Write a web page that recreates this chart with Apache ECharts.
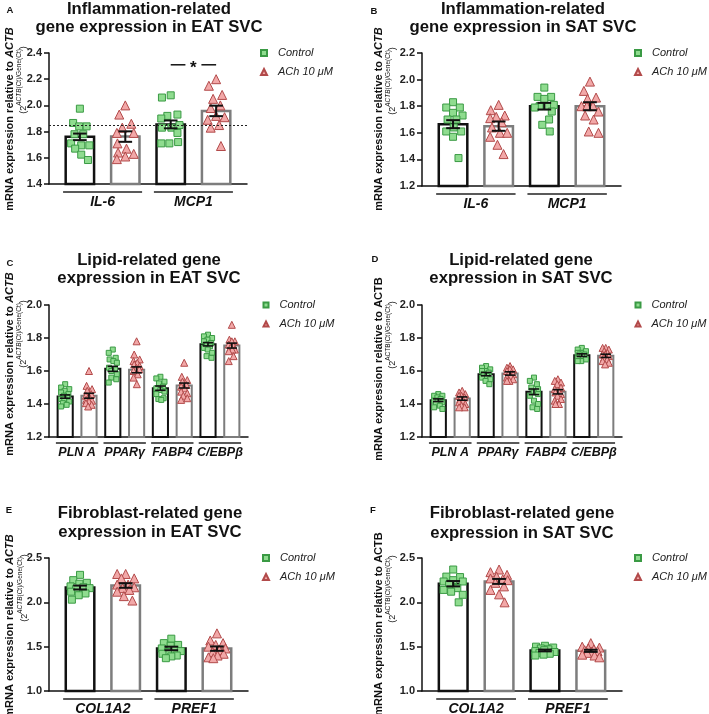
<!DOCTYPE html>
<html><head><meta charset="utf-8">
<script src="https://cdn.jsdelivr.net/npm/echarts@6/dist/echarts.min.js"></script>
<style>html,body{margin:0;padding:0;background:#fff}#c{width:709px;height:714px}</style>
</head><body><div id="c"></div>
<script>
const FONT = '"Liberation Sans", Arial, Helvetica, sans-serif';

// ---------- Panel A ----------
const aGenes = ['IL-6', 'MCP1'];
const aTicks = [1.4, 1.6, 1.8, 2.0, 2.2, 2.4];
const aCtrlMean = [1.76, 1.855];
const aCtrlSem = [0.025, 0.03];
const aAchMean = [1.762, 1.958];
const aAchSem = [0.04, 0.04];
const aCtrlPts = [[1.975,1.866,1.84,1.84,1.78,1.78,1.71,1.695,1.695,1.67,1.624,1.583],
                  [2.077,2.06,1.93,1.92,1.9,1.85,1.83,1.83,1.79,1.72,1.71,1.71]];
const aAchPts = [[2.0,1.93,1.86,1.83,1.79,1.79,1.71,1.67,1.64,1.63,1.61,1.59],
                 [2.2,2.15,2.08,2.05,2.0,1.98,1.92,1.91,1.89,1.85,1.83,1.69]];
const aRefLine = 1.855;
const aSigY = 2.31;

// ---------- Panel B ----------
const bGenes = ['IL-6', 'MCP1'];
const bTicks = [1.2, 1.4, 1.6, 1.8, 2.0, 2.2];
const bCtrlMean = [1.665, 1.80];
const bCtrlSem = [0.03, 0.025];
const bAchMean = [1.65, 1.80];
const bAchSem = [0.035, 0.03];
const bCtrlPts = [[1.83,1.79,1.79,1.75,1.73,1.70,1.70,1.64,1.61,1.61,1.57,1.41],
                  [1.94,1.87,1.87,1.855,1.81,1.80,1.80,1.79,1.76,1.70,1.66,1.61]];
const bAchPts = [[1.81,1.77,1.73,1.72,1.71,1.68,1.64,1.60,1.60,1.57,1.51,1.44],
                 [1.985,1.915,1.865,1.855,1.80,1.80,1.80,1.76,1.73,1.70,1.61,1.60]];

// ---------- Panel C ----------
const cGenes = ['PLN A', 'PPARγ', 'FABP4', 'C/EBPβ'];
const cTicks = [1.2, 1.4, 1.6, 1.8, 2.0];
const cCtrlMean = [1.445, 1.613, 1.496, 1.762];
const cCtrlSem = [0.01, 0.015, 0.013, 0.01];
const cAchMean = [1.45, 1.607, 1.512, 1.754];
const cAchSem = [0.015, 0.018, 0.015, 0.015];
const cCtrlPts = [[1.52,1.50,1.49,1.48,1.47,1.46,1.45,1.44,1.43,1.43,1.415,1.405,1.395,1.385],
                  [1.73,1.71,1.68,1.67,1.66,1.65,1.62,1.61,1.60,1.58,1.56,1.55,1.53],
                  [1.565,1.555,1.535,1.525,1.505,1.495,1.485,1.475,1.46,1.435,1.43,1.425],
                  [1.82,1.81,1.80,1.79,1.78,1.77,1.76,1.75,1.74,1.73,1.71,1.69,1.68]];
const cAchPts = [[1.60,1.51,1.49,1.48,1.46,1.45,1.44,1.425,1.42,1.415,1.405,1.395,1.385],
                 [1.78,1.70,1.67,1.66,1.65,1.64,1.63,1.62,1.61,1.60,1.58,1.56,1.52],
                 [1.65,1.565,1.545,1.535,1.515,1.505,1.495,1.475,1.465,1.45,1.435,1.425],
                 [1.88,1.79,1.78,1.78,1.76,1.75,1.74,1.73,1.73,1.72,1.69,1.66]];

// ---------- Panel D ----------
const dGenes = ['PLN A', 'PPARγ', 'FABP4', 'C/EBPβ'];
const dTicks = [1.2, 1.4, 1.6, 1.8, 2.0];
const dCtrlMean = [1.423, 1.581, 1.474, 1.696];
const dCtrlSem = [0.008, 0.01, 0.017, 0.008];
const dAchMean = [1.433, 1.585, 1.474, 1.692];
const dAchSem = [0.01, 0.01, 0.013, 0.01];
const dCtrlPts = [[1.46,1.45,1.45,1.44,1.43,1.42,1.42,1.41,1.40,1.39,1.38,1.37],
                  [1.63,1.62,1.61,1.60,1.60,1.59,1.58,1.57,1.56,1.55,1.54,1.52],
                  [1.56,1.54,1.52,1.50,1.49,1.47,1.46,1.45,1.42,1.40,1.38,1.37],
                  [1.74,1.73,1.72,1.71,1.71,1.70,1.70,1.69,1.68,1.67,1.66,1.66]];
const dAchPts = [[1.48,1.47,1.46,1.45,1.45,1.44,1.43,1.42,1.41,1.40,1.39,1.38,1.38],
                 [1.63,1.62,1.61,1.61,1.60,1.59,1.58,1.58,1.57,1.56,1.55,1.54,1.54],
                 [1.55,1.54,1.53,1.52,1.50,1.49,1.48,1.47,1.46,1.45,1.43,1.42,1.40,1.40],
                 [1.74,1.74,1.73,1.72,1.71,1.70,1.70,1.69,1.68,1.67,1.66,1.65,1.64]];

// ---------- Panel E ----------
const eGenes = ['COL1A2', 'PREF1'];
const eTicks = [1.0, 1.5, 2.0, 2.5];
const eCtrlMean = [2.167, 1.48];
const eCtrlSem = [0.022, 0.02];
const eAchMean = [2.19, 1.478];
const eAchSem = [0.026, 0.025];
const eCtrlPts = [[2.31,2.25,2.22,2.21,2.18,2.17,2.16,2.15,2.12,2.10,2.08,2.03],
                  [1.59,1.54,1.52,1.51,1.48,1.46,1.45,1.44,1.42,1.40,1.39,1.37]];
const eAchPts = [[2.32,2.32,2.27,2.27,2.20,2.20,2.17,2.16,2.14,2.12,2.07,2.02],
                 [1.65,1.57,1.54,1.52,1.50,1.48,1.46,1.44,1.42,1.40,1.38,1.37]];

// ---------- Panel F ----------
const fGenes = ['COL1A2', 'PREF1'];
const fTicks = [1.0, 1.5, 2.0, 2.5];
const fCtrlMean = [2.21, 1.457];
const fCtrlSem = [0.03, 0.01];
const fAchMean = [2.236, 1.453];
const fAchSem = [0.028, 0.012];
const fCtrlPts = [[2.37,2.29,2.285,2.25,2.235,2.235,2.20,2.16,2.14,2.12,2.085,2.0],
                  [1.51,1.50,1.49,1.48,1.47,1.46,1.45,1.44,1.43,1.42,1.41,1.40]];
const fAchPts = [[2.37,2.34,2.31,2.29,2.27,2.26,2.25,2.22,2.18,2.14,2.09,2.0],
                 [1.54,1.50,1.49,1.48,1.47,1.46,1.45,1.44,1.43,1.41,1.40,1.38]];

// ---------- layout / style per panel ----------
const panels = [
  {letter:'A', genes:aGenes, ticks:aTicks, cm:aCtrlMean, cs:aCtrlSem, am:aAchMean, as:aAchSem, cp:aCtrlPts, ap:aAchPts,
   grid:{left:49, top:53, width:198, height:131}, title:['Inflammation-related','gene expression in EAT SVC'], tx:149, ty:[9,27],
   lp:[10,10], leg:[263,53], yl1:[10,119], yl2:[22,80], italic:true, big:true},
  {letter:'B', genes:bGenes, ticks:bTicks, cm:bCtrlMean, cs:bCtrlSem, am:bAchMean, as:bAchSem, cp:bCtrlPts, ap:bAchPts,
   grid:{left:422, top:53, width:199, height:133}, title:['Inflammation-related','gene expression in SAT SVC'], tx:523, ty:[9,27],
   lp:[374,11], leg:[637,53], yl1:[379,119], yl2:[391,81], italic:true, big:true},
  {letter:'C', genes:cGenes, ticks:cTicks, cm:cCtrlMean, cs:cCtrlSem, am:cAchMean, as:cAchSem, cp:cCtrlPts, ap:cAchPts,
   grid:{left:49, top:305, width:199, height:132}, title:['Lipid-related gene','expression in EAT SVC'], tx:149, ty:[260,278],
   lp:[10,263], leg:[265,305], yl1:[10,364], yl2:[22,334], italic:true, big:false},
  {letter:'D', genes:dGenes, ticks:dTicks, cm:dCtrlMean, cs:dCtrlSem, am:dAchMean, as:dAchSem, cp:dCtrlPts, ap:dAchPts,
   grid:{left:422, top:305, width:200, height:132}, title:['Lipid-related gene','expression in SAT SVC'], tx:521, ty:[260,278],
   lp:[375,259], leg:[637,305], yl1:[379,369], yl2:[391,335], italic:false, big:false},
  {letter:'E', genes:eGenes, ticks:eTicks, cm:eCtrlMean, cs:eCtrlSem, am:eAchMean, as:eAchSem, cp:eCtrlPts, ap:eAchPts,
   grid:{left:49, top:558, width:199, height:133}, title:['Fibroblast-related gene','expression in EAT SVC'], tx:150, ty:[513,532],
   lp:[9,510], leg:[265,558], yl1:[10,626], yl2:[23,588], italic:true, big:true},
  {letter:'F', genes:fGenes, ticks:fTicks, cm:fCtrlMean, cs:fCtrlSem, am:fAchMean, as:fAchSem, cp:fCtrlPts, ap:fAchPts,
   grid:{left:422, top:558, width:200, height:133}, title:['Fibroblast-related gene','expression in SAT SVC'], tx:522, ty:[513,533],
   lp:[373,510], leg:[637,558], yl1:[379,624], yl2:[391,589], italic:false, big:true}
];

const CTRL_FILL = '#8fdc8f', CTRL_BORDER = '#3a9a44';
const ACH_FILL = '#f2a8a8', ACH_BORDER = '#b24a4a';

// horizontal spreading of points inside a bar (layout only)
const SPREAD = [0, -0.75, 0.7, -0.35, 0.4, 0.95, -0.95, 0.15, -0.55, 0.8, -0.15, 0.55, -0.8, 0.3];
function swarm(vals, center, size, pxX, pxY, maxHalf) {
  const order = vals.map((v, i) => i).sort((a, b) => vals[b] - vals[a]);
  const placed = [], out = new Array(vals.length);
  const cands = [];
  const N = 14;
  for (let k = -N; k <= N; k++) cands.push(k * maxHalf / N);
  order.forEach((i, n) => {
    const yp = vals[i] * pxY;
    const base = SPREAD[n % SPREAD.length] * maxHalf;
    const cs = cands.slice().sort((a, b) => Math.abs(a - base) - Math.abs(b - base));
    let best = null;
    for (const c of cs) {
      if (placed.every(q => Math.hypot(q.x - c, q.y - yp) >= size * 1.05)) { best = c; break; }
    }
    if (best === null) {
      let bd = -1;
      for (const c of cs) {
        const d = Math.min(...placed.map(q => Math.hypot(q.x - c, q.y - yp)));
        if (d > bd + 0.01) { bd = d; best = c; }
      }
    }
    placed.push({x: best, y: yp});
    out[i] = center + best / pxX;
  });
  return out;
}

const option = {animation:false, backgroundColor:'#fff', grid:[], xAxis:[], yAxis:[], series:[], legend:[], graphic:[]};

panels.forEach((p, k) => {
  const n = p.genes.length * 2;
  const xMin = -0.68, xMax = n - 1 + 0.68;
  const yMin = p.ticks[0], yMax = p.ticks[p.ticks.length - 1];
  const interval = p.ticks[1] - p.ticks[0];
  const bw = p.big ? 0.68 : 0.72;
  const lw = p.big ? 2.5 : 2;
  const capHalf = p.big ? 0.15 : 0.22;
  const ss = p.big ? 7 : 5, ts = p.big ? 9 : 7;
  const pxX = p.grid.width / (xMax - xMin), pxY = p.grid.height / (yMax - yMin);

  option.grid.push(Object.assign({containLabel:false}, p.grid));
  option.xAxis.push({type:'value', gridIndex:k, min:xMin, max:xMax, axisLine:{show:true, onZero:false, lineStyle:{color:'#111', width:1.5}},
    axisTick:{show:false}, axisLabel:{show:false}, splitLine:{show:false}});
  option.yAxis.push({type:'value', gridIndex:k, min:yMin, max:yMax, interval:interval,
    axisLine:{show:true, onZero:false, lineStyle:{color:'#111', width:1.5}},
    axisTick:{show:true, length:5, lineStyle:{color:'#111', width:1.5}},
    axisLabel:{margin:7, color:'#222', fontWeight:'bold', fontSize:11, fontFamily:FONT, formatter:v => v.toFixed(1)},
    splitLine:{show:false}});

  const barData = [], errData = [];
  p.genes.forEach((g, i) => {
    barData.push([2 * i, p.cm[i], 0], [2 * i + 1, p.am[i], 1]);
    errData.push([2 * i, p.cm[i], p.cs[i]], [2 * i + 1, p.am[i], p.as[i]]);
  });

  option.series.push({type:'custom', name:'bars' + k, xAxisIndex:k, yAxisIndex:k, z:1, silent:true,
    data:barData, encode:{x:0, y:1},
    renderItem:(params, api) => {
      const x = api.value(0), v = api.value(1), g = api.value(2);
      const tl = api.coord([x - bw / 2, v]), br = api.coord([x + bw / 2, yMin]);
      return {type:'rect', shape:{x:tl[0] + lw / 2, y:tl[1], width:br[0] - tl[0] - lw, height:br[1] - tl[1]},
        style:{fill:'#fff', stroke:g ? '#7d7d7d' : '#111', lineWidth:lw}};
    }});

  const ctrlData = [], achData = [];
  const half = bw * pxX / 2 - lw;
  p.genes.forEach((g, i) => {
    const cx = swarm(p.cp[i], 2 * i, ss + 1, pxX, pxY, half - ss / 2);
    p.cp[i].forEach((v, j) => ctrlData.push([cx[j], v]));
    const ax = swarm(p.ap[i], 2 * i + 1, ts, pxX, pxY, half - ts / 2);
    p.ap[i].forEach((v, j) => achData.push([ax[j], v]));
  });
  const ctrlSeries = {type:'scatter', name:'Control', xAxisIndex:k, yAxisIndex:k, z:2, symbol:'rect', symbolSize:ss,
    itemStyle:{color:CTRL_FILL, borderColor:CTRL_BORDER, borderWidth:1, opacity:1}, data:ctrlData, silent:true};
  if (k === 0) {
    ctrlSeries.markLine = {symbol:'none', silent:true, label:{show:false},
      lineStyle:{type:[2, 2], color:'#222', width:1}, data:[{yAxis:aRefLine}]};
  }
  option.series.push(ctrlSeries);
  option.series.push({type:'scatter', name:'ACh 10 μM', xAxisIndex:k, yAxisIndex:k, z:2, symbol:'triangle', symbolSize:ts,
    itemStyle:{color:ACH_FILL, borderColor:ACH_BORDER, borderWidth:1, opacity:1}, data:achData, silent:true});

  option.series.push({type:'custom', name:'err' + k, xAxisIndex:k, yAxisIndex:k, z:3, silent:true,
    data:errData, encode:{x:0, y:1},
    renderItem:(params, api) => {
      const x = api.value(0), v = api.value(1), s = api.value(2);
      const hi = api.coord([x, v + s]), lo = api.coord([x, v - s]);
      const l = api.coord([x - capHalf, v + s])[0], r = api.coord([x + capHalf, v + s])[0];
      const st = {stroke:'#111', lineWidth:lw * 0.8};
      return {type:'group', children:[
        {type:'line', shape:{x1:hi[0], y1:hi[1], x2:lo[0], y2:lo[1]}, style:st},
        {type:'line', shape:{x1:l, y1:hi[1], x2:r, y2:hi[1]}, style:st},
        {type:'line', shape:{x1:l, y1:lo[1], x2:r, y2:lo[1]}, style:st}
      ]};
    }});

  const labData = p.genes.map((g, i) => [2 * i, yMin, i]);
  const lineOff = p.big ? 8 : 6, textOff = p.big ? 18 : 16;
  option.series.push({type:'custom', name:'lab' + k, xAxisIndex:k, yAxisIndex:k, z:3, silent:true,
    data:labData, encode:{x:0, y:1},
    renderItem:(params, api) => {
      const x = api.value(0), i = api.value(2);
      const a = api.coord([x - bw / 2 - 0.03, yMin]), b = api.coord([x + 1 + bw / 2 + 0.03, yMin]);
      return {type:'group', children:[
        {type:'line', shape:{x1:a[0], y1:a[1] + lineOff, x2:b[0], y2:b[1] + lineOff}, style:{stroke:'#222', lineWidth:1.5}},
        {type:'text', x:(a[0] + b[0]) / 2, y:a[1] + textOff,
          style:{text:p.genes[i], fill:'#111', fontSize:p.big ? 14 : 12.5, fontWeight:'bold', fontStyle:'italic', fontFamily:FONT,
            align:'center', verticalAlign:'middle', textAlign:'center', textVerticalAlign:'middle'}}
      ]};
    }});

  if (k === 0) {
    option.series.push({type:'custom', name:'sig', xAxisIndex:0, yAxisIndex:0, z:3, silent:true,
      data:[[2, aSigY, 3]], encode:{x:0, y:1},
      renderItem:(params, api) => {
        const p1 = api.coord([api.value(0), api.value(1)]), p2 = api.coord([api.value(2), api.value(1)]);
        const m = (p1[0] + p2[0]) / 2;
        const st = {stroke:'#111', lineWidth:1.5};
        return {type:'group', children:[
          {type:'line', shape:{x1:p1[0], y1:p1[1], x2:m - 8, y2:p1[1]}, style:st},
          {type:'line', shape:{x1:m + 8, y1:p1[1], x2:p2[0], y2:p1[1]}, style:st},
          {type:'text', x:m, y:p1[1] + 4, style:{text:'*', fill:'#111', fontSize:17, fontWeight:'bold', fontFamily:FONT,
            align:'center', verticalAlign:'middle', textAlign:'center', textVerticalAlign:'middle'}}
        ]};
      }});
  }

  const li = p.big ? 6 : 5;
  option.legend.push({left:p.leg[0] - li / 2, top:p.leg[1] - 6.5, orient:'vertical', padding:0, itemWidth:li, itemHeight:li, itemGap:6,
    selectedMode:false, data:[{name:'Control', icon:'rect'}, {name:'ACh 10 μM', icon:'triangle'}],
    textStyle:{fontStyle:'italic', fontSize:11, fontFamily:FONT, color:'#222', lineHeight:13, padding:[0, 0, 0, 6]}});

  // titles
  p.title.forEach((t, j) => option.graphic.push({type:'text', x:p.tx, y:p.ty[j], silent:true,
    style:{text:t, fill:'#111', fontSize:16.7, fontWeight:'bold', fontFamily:FONT, align:'center', verticalAlign:'middle', textAlign:'center', textVerticalAlign:'middle'}}));
  option.graphic.push({type:'text', x:p.lp[0], y:p.lp[1], silent:true,
    style:{text:p.letter, fill:'#111', fontSize:9.5, fontWeight:'bold', fontFamily:FONT, align:'center', verticalAlign:'middle', textAlign:'center', textVerticalAlign:'middle'}});
  // y titles
  const it = p.italic ? 'italic' : 'normal';
  option.graphic.push({type:'text', x:p.yl1[0], y:p.yl1[1], rotation:Math.PI / 2, silent:true,
    style:{text:'{a|mRNA expression relative to }{b|ACTB}', align:'center', verticalAlign:'middle', textAlign:'center', textVerticalAlign:'middle',
      rich:{a:{fontSize:11, fontWeight:'bold', fontFamily:FONT, fill:'#111'}, b:{fontSize:11, fontWeight:'bold', fontStyle:it, fontFamily:FONT, fill:'#111'}}}});
  option.graphic.push({type:'text', x:p.yl2[0], y:p.yl2[1], rotation:Math.PI / 2, silent:true,
    style:{text:'{a|(2}{s|ACTB}{t|(Ct)/Gene(Ct)}{a|)}', align:'center', verticalAlign:'middle', textAlign:'center', textVerticalAlign:'middle',
      rich:{a:{fontSize:9, fontFamily:FONT, fill:'#111', verticalAlign:'bottom', lineHeight:13},
            s:{fontSize:6.5, fontStyle:it, fontFamily:FONT, fill:'#111', verticalAlign:'top', lineHeight:13},
            t:{fontSize:6.5, fontFamily:FONT, fill:'#111', verticalAlign:'top', lineHeight:13}}}});
});

const chart = echarts.init(document.getElementById('c'), null, {renderer:'canvas'});
chart.setOption(option);
</script></body></html>
